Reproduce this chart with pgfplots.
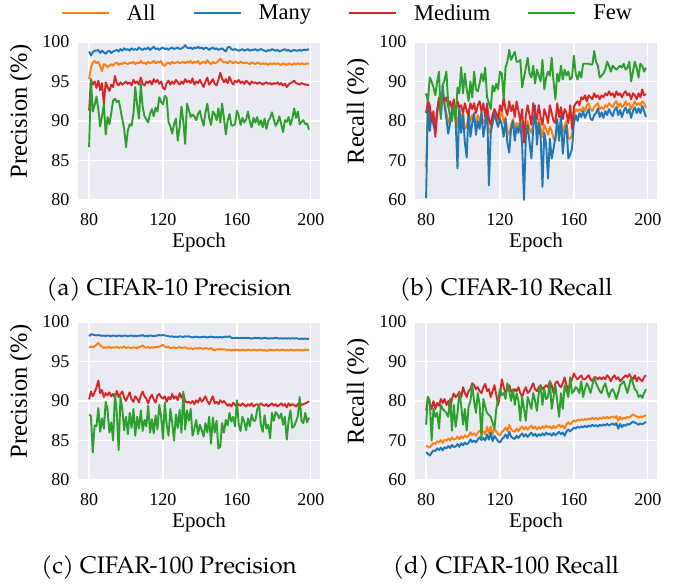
\documentclass[border=0pt]{standalone}
\usepackage{pgfplots}
\usepackage{pgfplotstable}
\pgfplotsset{compat=1.18}
\usepackage{fontspec}
\setmainfont{Liberation Serif}
\newfontfamily\capfont{texgyrepagella-regular.otf}
\definecolor{bgc}{HTML}{EAEAF2}
\definecolor{cAll}{HTML}{FF7F0E}
\definecolor{cMany}{HTML}{1F77B4}
\definecolor{cMed}{HTML}{D62728}
\definecolor{cFew}{HTML}{2CA02C}

\pgfplotstableread{
ep all many med few
80 95.3 98.8 91.3 86.7
81 96.8 98.3 95.3 95.3
82 97.4 98.7 94.6 91.2
83 97.6 98.9 95.0 92.0
84 97.3 98.9 94.2 93.1
85 97.5 99.0 95.1 91.5
86 96.9 98.6 93.9 89.3
87 96.3 98.9 94.8 90.6
88 97.2 98.7 92.1 92.1
89 97.1 98.5 94.9 88.3
90 96.8 98.8 94.3 90.5
91 97.0 98.9 93.8 89.6
92 97.2 98.6 94.6 91.0
93 97.0 98.8 94.3 92.6
94 97.3 98.9 95.7 92.8
95 97.4 99.0 94.8 92.4
96 97.1 98.8 94.5 92.6
97 97.3 99.1 94.9 91.5
98 97.2 98.9 94.6 90.2
99 97.4 99.2 94.8 89.0
100 97.3 99.0 95.0 86.7
101 97.2 99.1 94.7 88.8
102 97.4 98.9 94.9 89.6
103 97.3 99.2 94.5 89.4
104 97.5 99.0 95.2 90.9
105 97.2 99.1 94.8 94.3
106 97.4 99.0 95.0 92.0
107 97.3 99.3 94.6 90.3
108 97.6 99.1 95.5 94.7
109 97.3 99.0 94.7 91.8
110 97.4 99.2 94.5 90.6
111 97.2 99.1 95.0 90.2
112 97.5 99.3 94.8 89.8
113 97.3 99.0 95.1 90.9
114 97.4 99.2 94.6 91.5
115 97.6 99.4 95.3 90.6
116 97.3 99.1 94.9 91.7
117 97.5 99.2 95.2 91.2
118 97.4 99.0 94.7 93.0
119 97.6 99.2 95.0 92.4
120 97.1 99.3 94.2 92.1
121 97.0 99.1 94.0 93.2
122 97.3 99.2 94.8 92.9
123 97.4 99.0 95.1 89.9
124 97.2 99.2 94.6 89.3
125 97.5 99.3 95.0 88.4
126 97.3 99.1 94.7 89.6
127 97.4 99.2 95.2 90.3
128 97.5 99.3 94.9 87.5
129 97.3 99.1 94.6 89.2
130 97.4 99.2 95.0 91.8
131 97.5 99.3 94.7 90.0
132 97.3 99.6 95.3 87.1
133 97.5 99.3 94.9 92.2
134 97.4 99.2 95.1 91.4
135 97.6 99.3 94.8 90.5
136 97.3 99.1 95.4 90.8
137 97.5 99.3 94.6 90.6
138 97.4 99.2 95.0 90.1
139 97.6 99.4 94.8 90.9
140 97.2 99.2 95.2 91.3
141 97.4 99.3 94.7 90.2
142 97.5 99.1 94.3 89.4
143 97.3 99.3 95.0 91.1
144 97.7 99.2 95.5 92.2
145 97.4 99.0 94.6 90.4
146 97.2 99.2 94.9 89.5
147 97.5 99.3 95.3 91.2
148 97.3 99.1 94.7 90.9
149 97.4 99.2 94.5 90.1
150 97.6 99.0 95.2 91.6
151 97.9 99.1 96.1 89.8
152 97.6 99.2 95.4 92.2
153 97.4 99.0 94.9 90.4
154 97.5 98.8 95.3 88.3
155 97.3 99.3 94.8 90.0
156 97.6 99.4 95.6 90.9
157 97.5 99.1 95.0 89.5
158 97.3 99.0 94.6 89.4
159 97.5 99.1 95.1 89.6
160 97.4 99.0 94.9 91.3
161 97.3 98.9 95.2 90.7
162 97.5 99.0 94.8 89.5
163 97.4 99.1 95.0 90.4
164 97.3 98.9 94.7 89.8
165 97.4 99.0 95.1 90.2
166 97.3 99.1 94.9 91.2
167 97.2 98.9 94.6 89.9
168 97.4 99.0 95.0 89.2
169 97.3 99.0 94.8 90.4
170 97.2 99.1 94.9 89.8
171 97.4 98.9 94.7 90.5
172 97.3 99.0 94.9 89.5
173 97.2 99.1 94.8 90.1
174 97.3 99.0 94.6 89.2
175 97.2 98.9 94.8 90.3
176 97.3 98.8 94.9 89.0
177 97.1 99.0 94.7 90.0
178 97.3 98.9 94.8 90.4
179 97.2 99.1 94.6 91.1
180 97.3 99.0 94.8 90.2
181 97.2 98.9 94.7 89.4
182 97.3 99.0 94.9 89.8
183 97.2 98.8 94.6 90.6
184 97.1 98.9 94.8 89.6
185 97.3 99.0 94.5 88.6
186 97.2 99.1 94.7 90.1
187 97.1 98.9 94.3 89.9
188 97.3 99.0 94.6 90.5
189 97.2 98.8 94.8 89.5
190 97.1 98.9 94.9 90.3
191 97.3 99.0 95.1 91.6
192 97.2 98.9 94.8 90.4
193 97.3 98.9 94.7 91.2
194 97.2 99.0 94.6 89.6
195 97.3 98.9 94.8 89.9
196 97.2 99.0 94.7 90.1
197 97.2 99.0 94.6 89.6
198 97.3 99.0 94.6 89.7
199 97.2 99.1 94.5 88.9
}\tabA

\pgfplotstableread{
ep all many med few
80 68.3 60.5 82.0 87.0
81 85.0 85.8 85.0 85.0
82 79.5 77.5 84.0 91.0
83 82.0 81.5 80.0 90.0
84 80.5 79.0 82.5 88.5
85 78.5 77.2 76.0 86.5
86 83.0 82.5 82.0 90.0
87 85.5 85.5 86.0 92.5
88 82.5 81.0 83.0 80.5
89 87.0 89.0 86.0 89.0
90 84.5 84.0 85.0 90.5
91 82.0 80.5 86.0 92.5
92 79.5 76.8 83.5 84.0
93 81.0 79.5 85.0 81.0
94 82.5 83.0 83.0 80.0
95 84.0 85.0 85.5 84.0
96 81.5 80.0 82.0 80.0
97 78.5 68.0 85.0 88.5
98 83.0 83.5 83.5 87.0
99 80.0 77.0 84.0 93.6
100 82.5 81.5 82.0 87.0
101 78.0 74.5 84.5 92.0
102 78.5 70.8 82.5 88.0
103 82.0 83.0 81.5 85.0
104 80.0 76.0 84.5 90.0
105 81.5 79.5 83.0 86.0
106 80.5 82.0 84.5 92.5
107 79.5 76.5 82.0 88.0
108 81.5 80.0 84.0 87.5
109 80.0 78.0 85.0 89.5
110 82.0 82.5 82.5 92.0
111 79.5 76.0 84.5 90.0
112 80.5 79.0 81.0 93.5
113 82.5 84.5 84.0 86.0
114 77.0 63.7 80.5 84.5
115 78.0 77.0 79.0 83.0
116 80.0 79.5 81.5 89.0
117 81.5 82.0 83.0 87.5
118 80.5 80.0 82.0 89.5
119 79.5 78.5 80.5 88.0
120 81.0 80.5 84.0 92.5
121 82.5 79.0 82.5 92.0
122 79.5 76.0 86.0 85.5
123 81.0 80.5 83.0 93.5
124 77.5 74.5 81.5 95.0
125 76.5 72.0 85.0 98.0
126 79.0 78.0 82.5 95.5
127 80.5 80.0 84.0 96.5
128 78.0 75.0 81.0 97.5
129 79.5 78.5 85.0 95.0
130 78.5 77.0 82.5 95.0
131 80.0 79.5 80.0 95.5
132 78.5 74.0 83.0 88.5
133 75.0 60.0 74.5 91.0
134 78.5 76.0 81.5 93.5
135 80.0 79.0 84.0 96.0
136 78.0 74.5 81.5 92.0
137 77.0 70.5 79.0 91.0
138 79.5 78.0 84.5 94.0
139 81.5 84.0 82.0 89.5
140 78.0 74.0 80.5 93.0
141 80.5 79.5 84.0 91.5
142 78.5 76.0 81.0 90.0
143 76.0 63.3 79.0 95.5
144 79.0 77.0 83.0 88.0
145 78.0 74.0 81.5 91.0
146 76.5 65.4 79.5 92.5
147 78.5 75.5 84.0 91.5
148 77.5 70.5 82.0 96.0
149 75.5 73.0 80.0 90.0
150 75.0 76.0 79.5 85.5
151 78.5 80.5 84.5 92.0
152 77.5 75.0 81.0 90.0
153 80.0 81.4 83.5 94.0
154 77.0 71.7 80.5 90.5
155 79.0 77.0 83.0 93.0
156 80.0 79.0 82.0 91.5
157 75.5 70.5 79.5 92.5
158 75.5 71.5 84.0 90.5
159 76.5 73.0 78.0 91.0
160 81.5 79.3 83.5 96.5
161 83.0 81.5 84.5 92.0
162 82.5 80.0 85.0 90.5
163 83.0 82.0 84.0 92.5
164 82.5 81.0 86.0 91.0
165 83.5 82.5 85.5 94.5
166 82.5 80.8 86.5 94.5
167 84.0 82.0 85.0 94.5
168 84.5 83.0 86.5 94.5
169 83.0 80.6 86.0 94.3
170 82.5 80.2 85.5 94.3
171 83.5 81.5 87.0 97.7
172 84.0 82.0 86.0 95.0
173 84.5 83.2 86.5 94.0
174 83.0 81.0 85.5 91.0
175 83.5 82.2 86.5 91.5
176 83.0 80.8 86.0 92.0
177 84.0 82.5 87.0 93.0
178 83.5 81.5 86.5 95.0
179 84.5 83.0 87.5 94.0
180 84.0 82.0 86.5 92.5
181 83.5 81.2 87.0 94.0
182 84.5 82.8 86.0 93.5
183 85.0 83.5 87.5 93.0
184 83.5 81.5 86.5 93.5
185 84.5 82.8 87.0 94.0
186 83.5 81.0 86.0 93.5
187 84.0 82.5 87.0 94.5
188 85.0 83.5 87.5 93.0
189 84.0 82.0 86.5 93.5
190 84.5 83.0 87.0 95.0
191 83.0 80.8 85.5 90.0
192 84.0 82.5 87.0 92.5
193 85.0 83.5 86.5 95.0
194 84.0 82.0 85.5 93.5
195 84.5 83.2 87.0 91.0
196 84.0 82.0 86.0 94.5
197 85.0 83.8 88.0 94.0
198 84.5 82.5 86.5 92.5
199 83.2 81.0 86.8 93.5
}\tabB

\pgfplotstableread{
ep all many med few
80 96.75 98.2 90.2 88.3
81 96.9 98.45 91.2 88.1
82 96.8 98.4 90.6 83.5
83 96.95 98.35 91.1 86.9
84 97.1 98.3 91.7 86.8
85 97.35 98.35 92.6 89.1
86 97.05 98.3 91.0 86.1
87 96.9 98.25 91.4 87.8
88 96.7 98.3 90.5 86.5
89 96.8 98.2 91.0 89.9
90 96.75 98.3 90.7 88.9
91 96.85 98.25 91.1 86.0
92 96.7 98.2 90.6 87.3
93 96.8 98.3 90.9 85.0
94 96.75 98.25 90.4 90.9
95 96.85 98.2 91.3 88.5
96 96.7 98.3 90.5 83.8
97 96.8 98.25 90.9 90.5
98 96.75 98.2 91.2 89.0
99 96.9 98.3 90.4 86.3
100 96.7 98.25 90.0 88.0
101 96.8 98.2 90.6 85.8
102 96.75 98.25 91.1 88.5
103 96.7 98.3 90.2 86.6
104 96.8 98.2 89.9 89.0
105 96.75 98.25 90.6 85.6
106 96.7 98.2 90.3 88.0
107 96.8 98.3 89.8 86.5
108 96.9 98.25 90.7 88.8
109 97.05 98.35 91.2 86.2
110 96.8 98.2 90.6 87.6
111 96.75 98.25 90.3 86.8
112 96.85 98.2 89.7 89.4
113 96.7 98.3 90.4 86.0
114 96.8 98.25 90.8 87.7
115 96.75 98.2 90.2 85.9
116 96.85 98.25 89.8 88.2
117 96.8 98.3 90.7 86.4
118 96.9 98.35 90.9 89.5
119 97.0 98.3 90.5 88.0
120 97.1 98.35 90.3 85.2
121 96.9 98.3 90.6 89.8
122 96.8 98.25 89.9 87.0
123 96.85 98.2 90.5 85.6
124 96.7 98.15 90.2 89.0
125 96.75 98.2 90.9 87.2
126 96.8 98.1 90.3 85.0
127 96.7 98.15 90.6 88.3
128 96.75 98.1 90.1 86.6
129 96.85 98.2 91.0 88.9
130 96.7 98.15 90.4 86.0
131 96.75 98.1 90.9 91.2
132 96.8 98.2 90.0 86.4
133 96.7 98.15 89.8 88.8
134 96.6 98.2 89.9 87.5
135 96.7 98.1 89.7 89.0
136 96.55 98.05 90.0 85.6
137 96.65 98.1 89.6 86.5
138 96.7 98.15 90.1 87.6
139 96.6 98.1 89.8 85.8
140 96.75 98.05 90.4 87.0
141 96.65 98.1 89.9 86.3
142 96.6 98.15 90.2 85.5
143 96.7 98.1 90.6 87.2
144 96.65 98.05 90.0 86.0
145 96.6 98.1 89.6 88.0
146 96.7 98.15 90.1 84.6
147 96.5 98.1 90.6 87.9
148 96.4 98.05 89.7 86.0
149 96.55 98.1 89.9 87.5
150 96.5 98.05 89.6 84.0
151 96.6 98.1 90.1 84.2
152 96.5 98.05 89.8 87.2
153 96.55 98.1 90.0 86.0
154 96.5 98.15 89.7 87.6
155 96.45 98.1 89.4 86.9
156 96.5 98.2 89.6 88.5
157 96.4 98.0 89.3 87.4
158 96.5 97.95 89.8 88.0
159 96.45 98.0 89.5 86.8
160 96.5 98.0 89.3 90.1
161 96.45 97.95 89.6 87.0
162 96.4 98.0 89.4 86.2
163 96.5 97.95 89.7 88.0
164 96.45 98.0 89.5 87.4
165 96.4 97.95 89.3 86.3
166 96.5 98.0 89.6 87.8
167 96.45 97.95 89.4 86.8
168 96.4 97.9 89.7 88.3
169 96.5 97.95 89.3 87.5
170 96.45 98.0 89.5 87.5
171 96.4 97.95 89.6 88.9
172 96.45 98.0 89.4 89.5
173 96.5 97.9 89.7 87.0
174 96.4 97.95 89.5 86.1
175 96.45 98.0 89.4 88.2
176 96.35 97.95 89.6 86.5
177 96.4 97.9 89.3 87.0
178 96.5 97.95 89.5 85.3
179 96.45 97.9 89.7 88.5
180 96.4 97.95 89.4 87.5
181 96.45 98.0 89.6 88.6
182 96.5 97.95 89.3 88.3
183 96.4 97.9 89.5 87.8
184 96.45 97.95 89.7 88.4
185 96.5 97.9 89.4 87.0
186 96.4 97.95 89.6 88.0
187 96.45 97.9 89.2 85.1
188 96.4 97.95 89.7 87.5
189 96.5 97.9 89.4 88.8
190 96.45 97.95 89.6 86.6
191 96.4 97.9 89.5 86.8
192 96.45 97.95 89.3 87.4
193 96.5 97.9 89.6 88.1
194 96.4 97.85 89.8 90.5
195 96.45 97.9 89.5 87.5
196 96.4 97.85 89.6 87.2
197 96.5 97.9 89.7 88.5
198 96.45 97.85 89.8 87.3
199 96.45 97.9 90.0 87.9
}\tabC

\pgfplotstableread{
ep all many med few
80 68.6 67.1 77.6 74.0
81 68.5 66.6 81.0 81.0
82 68.2 66.2 79.5 80.0
83 68.8 66.9 78.0 70.0
84 69.4 67.5 80.0 78.0
85 69.1 67.3 78.0 76.0
86 69.8 68.0 79.5 77.0
87 69.5 67.6 78.8 73.0
88 70.1 68.2 80.5 79.0
89 69.4 67.5 79.5 78.0
90 70.2 68.3 80.5 77.5
91 69.9 68.0 79.0 77.0
92 70.5 68.6 80.0 76.0
93 70.0 68.1 77.6 80.5
94 70.8 68.9 80.5 72.5
95 70.2 68.3 81.9 79.0
96 70.4 68.5 81.0 73.5
97 71.0 69.1 81.5 77.0
98 70.3 68.4 82.3 82.0
99 71.1 69.3 81.0 79.0
100 70.6 68.8 83.5 74.0
101 71.3 69.5 82.0 78.0
102 70.8 69.0 81.0 72.5
103 71.2 69.4 82.5 78.5
104 72.1 70.3 83.0 80.0
105 71.4 69.6 84.5 84.0
106 71.8 70.0 84.0 80.0
107 71.2 69.5 83.0 77.0
108 72.0 70.3 83.5 82.0
109 72.5 70.8 82.5 79.0
110 71.8 70.1 82.0 70.5
111 72.3 70.6 83.5 80.5
112 71.6 70.0 84.3 78.5
113 73.5 71.5 82.5 77.0
114 71.8 70.2 83.0 76.5
115 73.6 72.0 81.0 76.0
116 71.6 69.8 82.5 74.5
117 73.0 71.2 84.0 73.0
118 72.3 70.5 81.5 78.0
119 71.6 69.8 79.0 80.5
120 71.3 69.5 81.5 83.0
121 72.1 70.3 85.5 81.5
122 72.6 70.8 83.5 82.0
123 73.3 71.5 82.0 80.5
124 72.4 70.6 83.0 84.5
125 74.0 72.2 84.0 82.5
126 72.8 71.0 82.5 80.0
127 72.4 70.6 82.0 83.0
128 72.2 70.4 83.0 79.0
129 73.0 71.2 82.5 82.0
130 72.4 70.6 83.5 80.0
131 73.1 71.3 82.0 75.0
132 73.6 71.8 81.0 81.0
133 72.8 71.0 82.5 78.0
134 73.4 71.6 83.5 75.0
135 72.7 70.9 82.0 81.0
136 73.3 71.5 82.5 79.5
137 73.8 72.0 83.5 78.0
138 73.0 71.2 84.5 82.0
139 73.5 71.7 83.0 80.0
140 72.8 71.0 82.5 77.5
141 73.4 71.6 83.5 82.0
142 73.0 71.2 84.0 84.0
143 73.6 71.8 83.0 79.0
144 73.1 71.3 83.5 83.0
145 73.8 72.0 84.0 80.5
146 73.3 71.5 83.5 81.0
147 73.6 71.8 85.0 85.0
148 73.0 71.2 84.0 78.0
149 73.7 71.9 82.0 81.0
150 73.1 71.3 84.5 84.0
151 73.6 71.8 85.0 80.0
152 74.0 72.2 84.0 76.0
153 73.4 71.6 83.5 82.0
154 73.8 72.0 84.5 78.0
155 73.0 71.2 86.0 84.0
156 74.1 72.3 84.0 82.5
157 74.6 72.8 82.5 81.0
158 74.1 72.3 84.5 86.0
159 74.6 72.8 85.5 82.0
160 75.1 73.3 87.0 82.5
161 74.8 73.0 86.0 83.5
162 75.3 73.5 85.5 83.0
163 75.0 73.2 86.0 82.0
164 75.4 73.6 86.5 85.0
165 75.1 73.3 85.5 81.0
166 75.5 73.7 85.5 83.0
167 75.2 73.4 86.0 84.5
168 75.6 73.8 86.5 83.5
169 75.3 73.5 85.5 82.0
170 75.8 74.0 85.0 84.0
171 75.4 73.6 86.0 86.0
172 75.7 73.9 86.0 84.5
173 75.3 73.5 85.5 83.5
174 75.8 74.0 86.0 82.5
175 75.5 73.7 85.5 82.0
176 75.9 74.1 86.0 83.5
177 75.6 73.8 85.5 84.5
178 76.0 74.2 86.5 82.5
179 75.6 73.8 86.0 81.0
180 75.9 74.1 85.0 82.5
181 76.1 74.3 86.0 83.0
182 75.7 73.9 86.5 82.0
183 76.2 74.4 85.5 80.5
184 75.0 73.0 86.0 82.0
185 76.0 74.2 85.0 84.0
186 75.3 73.4 85.5 84.5
187 75.8 74.0 86.0 85.0
188 75.5 73.7 86.5 83.5
189 76.0 74.2 86.0 82.0
190 75.8 74.0 86.8 84.0
191 76.2 74.4 86.0 86.0
192 76.6 74.8 85.5 84.5
193 76.3 74.5 86.5 83.0
194 76.1 74.3 85.0 82.5
195 75.8 74.0 86.0 81.0
196 76.1 74.3 85.5 81.5
197 75.9 74.1 85.0 80.8
198 76.2 74.4 86.0 82.0
199 76.3 74.7 86.5 83.0
}\tabD

\pgfplotsset{
  sea/.style={
    scale only axis, width=242pt, height=158pt,
    axis background/.style={fill=bgc},
    axis line style={draw=none},
    xmajorgrids, ymajorgrids,
    major grid style={white, line width=1.3pt},
    major tick length=0pt,
    xmin=74, xmax=205, xtick={80,120,160,200},
    /pgf/number format/assume math mode=true,
    ticklabel style={font=\fontsize{18}{18}\selectfont},
    yticklabel style={xshift=-5pt},
    xticklabel style={yshift=-10pt},
    xlabel=Epoch,
    xlabel style={font=\fontsize{21}{21}\selectfont, at={(axis description cs:0.5,-0.2658)}, anchor=center},
    ylabel style={font=\fontsize{24.5}{24.5}\selectfont, at={(axis description cs:-0.236,0.56)}, anchor=center},
    every axis plot/.append style={line width=1.9pt, line join=round, mark=none},
  },
  prec/.style={ymin=80, ymax=100, ytick={80,85,90,95,100}, ylabel={Precision (\%)}},
  rec/.style={ymin=60, ymax=100, ytick={60,70,80,90,100}, ylabel={Recall (\%)}},
}

\begin{document}
\begin{tikzpicture}[x=1pt,y=1pt]
\useasboundingbox (0,0) rectangle (686,-584);

\begin{axis}[sea, prec, at={(78pt,-200pt)}, anchor=south west,
  legend columns=4,
  legend style={at={(axis description cs:-0.072,1.1835)}, anchor=west, draw=none, fill=none,
    inner sep=0pt,
    font=\fontsize{22.5}{22.5}\selectfont,
    /tikz/every odd column/.append style={column sep=15pt},
    /tikz/every even column/.append style={column sep=35pt}},
  legend image code/.code={\draw[#1, line width=2pt] (0pt,0pt) -- (47pt,0pt);}]
\addplot[cAll] table[x=ep, y=all] {\tabA};
\addplot[cMany] table[x=ep, y=many] {\tabA};
\addplot[cMed] table[x=ep, y=med] {\tabA};
\addplot[cFew] table[x=ep, y=few] {\tabA};
\legend{All, Many, Medium, Few}
\end{axis}

\begin{axis}[sea, rec, at={(415pt,-200pt)}, anchor=south west]
\addplot[cAll] table[x=ep, y=all] {\tabB};
\addplot[cMany] table[x=ep, y=many] {\tabB};
\addplot[cMed] table[x=ep, y=med] {\tabB};
\addplot[cFew] table[x=ep, y=few] {\tabB};
\end{axis}

\begin{axis}[sea, prec, at={(78pt,-480pt)}, anchor=south west]
\addplot[cAll] table[x=ep, y=all] {\tabC};
\addplot[cMany] table[x=ep, y=many] {\tabC};
\addplot[cMed] table[x=ep, y=med] {\tabC};
\addplot[cFew] table[x=ep, y=few] {\tabC};
\end{axis}

\begin{axis}[sea, rec, at={(415pt,-480pt)}, anchor=south west]
\addplot[cAll] table[x=ep, y=all] {\tabD};
\addplot[cMany] table[x=ep, y=many] {\tabD};
\addplot[cMed] table[x=ep, y=med] {\tabD};
\addplot[cFew] table[x=ep, y=few] {\tabD};
\end{axis}

\node[font=\capfont\fontsize{24}{24}\selectfont] at (169,-289) {(a) CIFAR-10 Precision};
\node[font=\capfont\fontsize{24}{24}\selectfont] at (506,-289) {(b) CIFAR-10 Recall};
\node[font=\capfont\fontsize{24}{24}\selectfont] at (169,-567) {(c) CIFAR-100 Precision};
\node[font=\capfont\fontsize{24}{24}\selectfont] at (506,-567) {(d) CIFAR-100 Recall};
\end{tikzpicture}
\end{document}
